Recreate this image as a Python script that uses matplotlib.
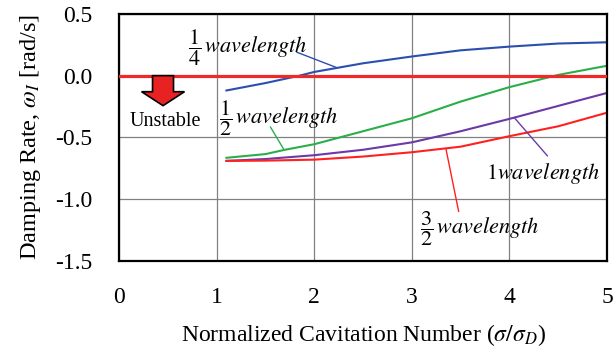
import matplotlib
matplotlib.use("Agg")
import matplotlib.pyplot as plt
from matplotlib.patches import FancyArrow

plt.rcParams['font.family'] = 'serif'
plt.rcParams['font.serif'] = ['Liberation Serif', 'DejaVu Serif']
plt.rcParams['mathtext.fontset'] = 'stix'
plt.rcParams['axes.unicode_minus'] = False

# 데이터
x_quarter = [1.1, 1.5, 1.85, 2.0, 2.5, 3.0, 3.5, 4.0, 4.5, 5.0]
y_quarter = [-0.12, -0.06, 0.0, 0.03, 0.10, 0.155, 0.205, 0.235, 0.26, 0.27]

x_half = [1.1, 1.5, 1.7, 2.0, 2.5, 3.0, 3.5, 4.0, 4.5, 5.0]
y_half = [-0.665, -0.635, -0.60, -0.555, -0.45, -0.345, -0.21, -0.093, 0.006, 0.08]

x_one = [1.1, 1.5, 2.0, 2.5, 3.0, 3.5, 4.0, 4.5, 5.0]
y_one = [-0.69, -0.675, -0.644, -0.60, -0.54, -0.45, -0.35, -0.245, -0.14]

x_threehalf = [1.1, 1.5, 2.0, 2.5, 3.0, 3.5, 4.0, 4.5, 5.0]
y_threehalf = [-0.69, -0.688, -0.68, -0.655, -0.62, -0.575, -0.49, -0.41, -0.30]

xticks = [0, 1, 2, 3, 4, 5]
yticks = [0.5, 0.0, -0.5, -1.0, -1.5]

fig = plt.figure(figsize=(6.14, 3.47), dpi=100)
ax = fig.add_axes([0.194, 0.248, 0.7946, 0.712])

ax.set_xlim(0, 5)
ax.set_ylim(-1.5, 0.5)
ax.set_xticks(xticks)
ax.set_yticks(yticks)
ax.set_yticklabels(['%.1f' % v for v in yticks])
ax.tick_params(length=0, labelsize=17, pad=19)
ax.grid(color='#808080', linewidth=0.9)
for s in ax.spines.values():
    s.set_linewidth(1.6)

# 그래프 그리기
ax.axhline(0, color='#f02828', linewidth=2.3, zorder=3)
ax.plot(x_quarter, y_quarter, color='#2b4faf', linewidth=1.5)
ax.plot(x_half, y_half, color='#2aae4a', linewidth=1.5)
ax.plot(x_one, y_one, color='#6a3aa8', linewidth=1.5)
ax.plot(x_threehalf, y_threehalf, color='#ff2020', linewidth=1.5, zorder=2.5)

# 지시선
ax.annotate('', xy=(2.23, 0.065), xytext=(1.82, 0.19),
            arrowprops=dict(arrowstyle='-', color='#2b4faf', lw=1, shrinkA=0, shrinkB=0))
ax.annotate('', xy=(1.69, -0.60), xytext=(1.55, -0.415),
            arrowprops=dict(arrowstyle='-', color='#2aae4a', lw=1, shrinkA=0, shrinkB=0))
ax.annotate('', xy=(4.39, -0.65), xytext=(4.05, -0.34),
            arrowprops=dict(arrowstyle='-', color='#6a3aa8', lw=1, shrinkA=0, shrinkB=0))
ax.annotate('', xy=(3.48, -1.10), xytext=(3.35, -0.595),
            arrowprops=dict(arrowstyle='-', color='#ff2020', lw=1, shrinkA=0, shrinkB=0))

ax.text(0.71, 0.225, r'$\dfrac{1}{4}\,\mathit{wavelength}$', fontsize=16, ha='left', va='center')
ax.text(1.02, -0.345, r'$\dfrac{1}{2}\,\mathit{wavelength}$', fontsize=16, ha='left', va='center')
ax.text(3.76, -0.79, r'$1\mathit{wavelength}$', fontsize=16, ha='left', va='center')
ax.text(3.08, -1.24, r'$\dfrac{3}{2}\,\mathit{wavelength}$', fontsize=16, ha='left', va='center')

# Unstable 화살표
ax.add_patch(FancyArrow(0.45, 0.0, 0, -0.243, width=0.215, head_width=0.44,
                        head_length=0.113, length_includes_head=True,
                        facecolor='#e82222', edgecolor='black', linewidth=1.2, zorder=4))
ax.text(0.47, -0.37, 'Unstable', fontsize=14.5, ha='center', va='center')

ax.set_xlabel(r'Normalized Cavitation Number ($\sigma/\sigma_D$)', fontsize=17, labelpad=10)
ax.set_ylabel(r'Damping Rate, $\omega_I$ [rad/s]', fontsize=17.5, labelpad=9)

fig.savefig('out.png', dpi=100)
